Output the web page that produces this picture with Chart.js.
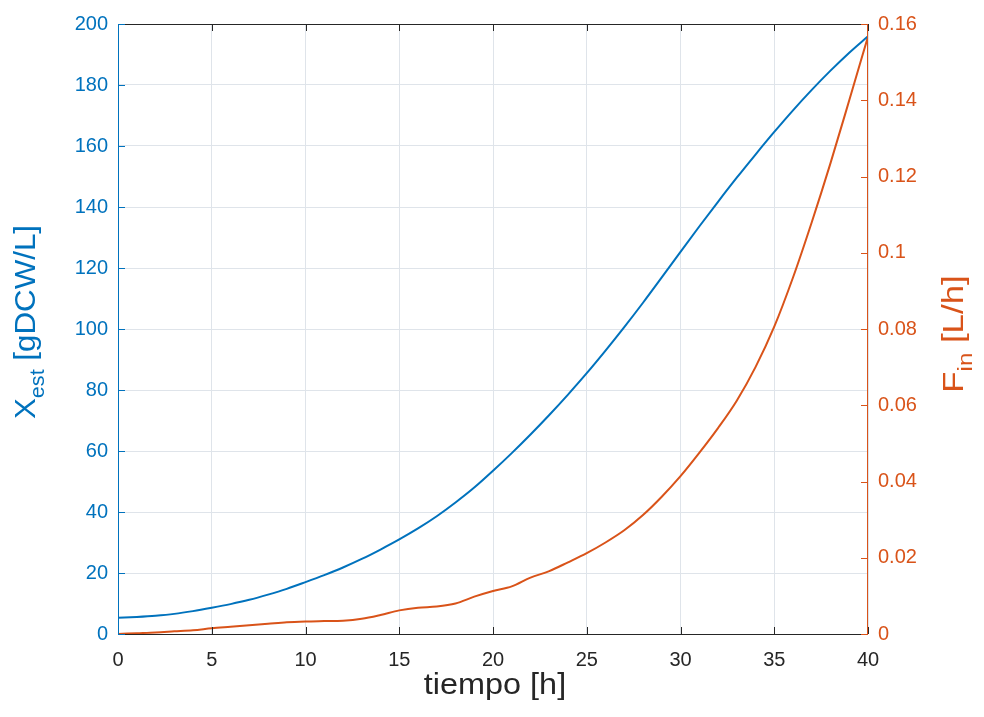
<!DOCTYPE html>
<html>
<head>
<meta charset="utf-8">
<script src="https://cdn.jsdelivr.net/npm/chart.js@4/dist/chart.umd.min.js"></script>
<style>
  html, body { margin: 0; padding: 0; background: #fff; }
  #wrap { width: 984px; height: 717px; position: relative; }
</style>
</head>
<body>
<div id="wrap"><canvas id="chart"></canvas></div>
<script>
// time axis [h]
const tiempo = [0, 1, 2, 3, 4, 5, 6, 7, 8, 9, 10, 11, 12, 13, 14, 15, 16, 17, 18, 19, 20,
                21, 22, 23, 24, 25, 26, 27, 28, 29, 30, 31, 32, 33, 34, 35, 36, 37, 38, 39, 40];

// estimated biomass [gDCW/L]
const xEst = [5.3, 5.6, 6.0, 6.6, 7.5, 8.6, 9.8, 11.2, 12.9, 14.8, 17.0,
              19.3, 21.8, 24.6, 27.7, 31.0, 34.6, 38.6, 43.1, 48.0, 53.5,
              59.3, 65.4, 71.8, 78.5, 85.5, 92.9, 100.6, 108.6, 116.9, 125.3,
              133.6, 141.7, 149.6, 157.2, 164.6, 171.7, 178.4, 184.7, 190.6, 196.0];

// feed flow [L/h]
const fIn = [0, 0.0002, 0.0004, 0.0007, 0.0010, 0.0015, 0.0019, 0.0023, 0.0027, 0.0031, 0.0033,
             0.0034, 0.0035, 0.0040, 0.0050, 0.0062, 0.0069, 0.0072, 0.0080, 0.0098, 0.0113,
             0.0125, 0.0148, 0.0165, 0.0188, 0.0212, 0.0240, 0.0272, 0.0312, 0.0360, 0.0414,
             0.0475, 0.0540, 0.0612, 0.0700, 0.0806, 0.0935, 0.1080, 0.1235, 0.1400, 0.1567];

const xTicks = [0, 5, 10, 15, 20, 25, 30, 35, 40];
const leftTicks = [0, 20, 40, 60, 80, 100, 120, 140, 160, 180, 200];
const rightTicks = [0, 0.02, 0.04, 0.06, 0.08, 0.1, 0.12, 0.14, 0.16];

const BLUE = '#0072BD';
const ORANGE = '#D95319';
const DARK = '#262626';
const FONT = "'Liberation Sans', Arial, sans-serif";

// box + inward tick marks, MATLAB style
const boxPlugin = {
    id: 'box',
    afterDraw(chart) {
        const { ctx, chartArea: a, scales } = chart;
        const len = 7;
        ctx.save();
        ctx.lineWidth = 1;
        ctx.strokeStyle = DARK;
        ctx.beginPath();
        ctx.moveTo(a.left, a.bottom + 0.5); ctx.lineTo(a.right, a.bottom + 0.5);
        ctx.moveTo(a.left, a.top + 0.5); ctx.lineTo(a.right, a.top + 0.5);
        xTicks.forEach(v => {
            const px = Math.round(scales.x.getPixelForValue(v)) + 0.5;
            ctx.moveTo(px, a.bottom); ctx.lineTo(px, a.bottom - len);
            ctx.moveTo(px, a.top); ctx.lineTo(px, a.top + len);
        });
        ctx.stroke();

        ctx.strokeStyle = BLUE;
        ctx.beginPath();
        ctx.moveTo(a.left + 0.5, a.top); ctx.lineTo(a.left + 0.5, a.bottom);
        leftTicks.forEach(v => {
            const py = Math.round(scales.y.getPixelForValue(v)) + 0.5;
            ctx.moveTo(a.left, py); ctx.lineTo(a.left + len, py);
        });
        ctx.stroke();

        ctx.strokeStyle = ORANGE;
        ctx.beginPath();
        ctx.moveTo(a.right - 0.5, a.top); ctx.lineTo(a.right - 0.5, a.bottom);
        rightTicks.forEach(v => {
            const py = Math.round(scales.y1.getPixelForValue(v)) + 0.5;
            ctx.moveTo(a.right, py); ctx.lineTo(a.right - len, py);
        });
        ctx.stroke();
        ctx.restore();
    }
};

// text drawn piece by piece (for subscripts), optionally rotated and stretched along the text
function drawParts(ctx, x, y, parts, color, rotate, stretch) {
    ctx.save();
    ctx.fillStyle = color;
    ctx.textBaseline = 'alphabetic';
    let total = 0;
    parts.forEach(p => { ctx.font = p.size + 'px ' + FONT; total += ctx.measureText(p.text).width; });
    ctx.translate(x, y);
    if (rotate) ctx.rotate(-Math.PI / 2);
    ctx.scale(stretch, 1);
    let pos = -total / 2;
    parts.forEach(p => {
        ctx.font = p.size + 'px ' + FONT;
        ctx.fillText(p.text, pos, p.dy || 0);
        pos += ctx.measureText(p.text).width;
    });
    ctx.restore();
}

const titlePlugin = {
    id: 'titles',
    afterDraw(chart) {
        const { ctx, chartArea: a } = chart;
        drawParts(ctx, 35, 322, [
            { text: 'X', size: 29 },
            { text: 'est', size: 20, dy: 9 },
            { text: ' [gDCW/L]', size: 29 }
        ], BLUE, true, 1.08);
        drawParts(ctx, 963, 334, [
            { text: 'F', size: 29 },
            { text: 'in', size: 20, dy: 9 },
            { text: ' [L/h]', size: 29 }
        ], ORANGE, true, 1.2);
        drawParts(ctx, (a.left + a.right) / 2 + 2, 694, [
            { text: 'tiempo [h]', size: 30 }
        ], DARK, false, 1.08);
    }
};

const gridColor = '#dfe4ea';

new Chart(document.getElementById('chart'), {
    type: 'line',
    data: {
        datasets: [
            {
                label: 'Xest',
                data: tiempo.map((t, i) => ({ x: t, y: xEst[i] })),
                borderColor: BLUE,
                borderWidth: 2,
                pointRadius: 0,
                cubicInterpolationMode: 'monotone',
                yAxisID: 'y'
            },
            {
                label: 'Fin',
                data: tiempo.map((t, i) => ({ x: t, y: fIn[i] })),
                borderColor: ORANGE,
                borderWidth: 2,
                pointRadius: 0,
                cubicInterpolationMode: 'monotone',
                yAxisID: 'y1'
            }
        ]
    },
    options: {
        responsive: true,
        maintainAspectRatio: false,
        animation: false,
        layout: { padding: { top: 24, left: 0, right: 0, bottom: 0 } },
        plugins: { legend: { display: false }, tooltip: { enabled: false } },
        scales: {
            x: {
                type: 'linear',
                min: 0, max: 40,
                afterBuildTicks: s => { s.ticks = xTicks.map(v => ({ value: v })); },
                afterFit: s => { s.height = 83; },
                grid: { color: gridColor, drawTicks: false },
                border: { display: false },
                ticks: { color: DARK, padding: 14, font: { family: FONT, size: 20 }, maxRotation: 0 }
            },
            y: {
                position: 'left',
                min: 0, max: 200,
                afterBuildTicks: s => { s.ticks = leftTicks.map(v => ({ value: v })); },
                afterFit: s => { s.width = 118; },
                grid: { color: gridColor, drawTicks: false },
                border: { display: false },
                ticks: { color: BLUE, padding: 10, font: { family: FONT, size: 20 } }
            },
            y1: {
                position: 'right',
                min: 0, max: 0.16,
                afterBuildTicks: s => { s.ticks = rightTicks.map(v => ({ value: v })); },
                afterFit: s => { s.width = 116; },
                grid: { display: false, drawTicks: false },
                border: { display: false },
                ticks: {
                    color: ORANGE, padding: 10, font: { family: FONT, size: 20 },
                    callback: v => String(+v.toFixed(2))
                }
            }
        }
    },
    plugins: [boxPlugin, titlePlugin]
});
</script>
</body>
</html>
